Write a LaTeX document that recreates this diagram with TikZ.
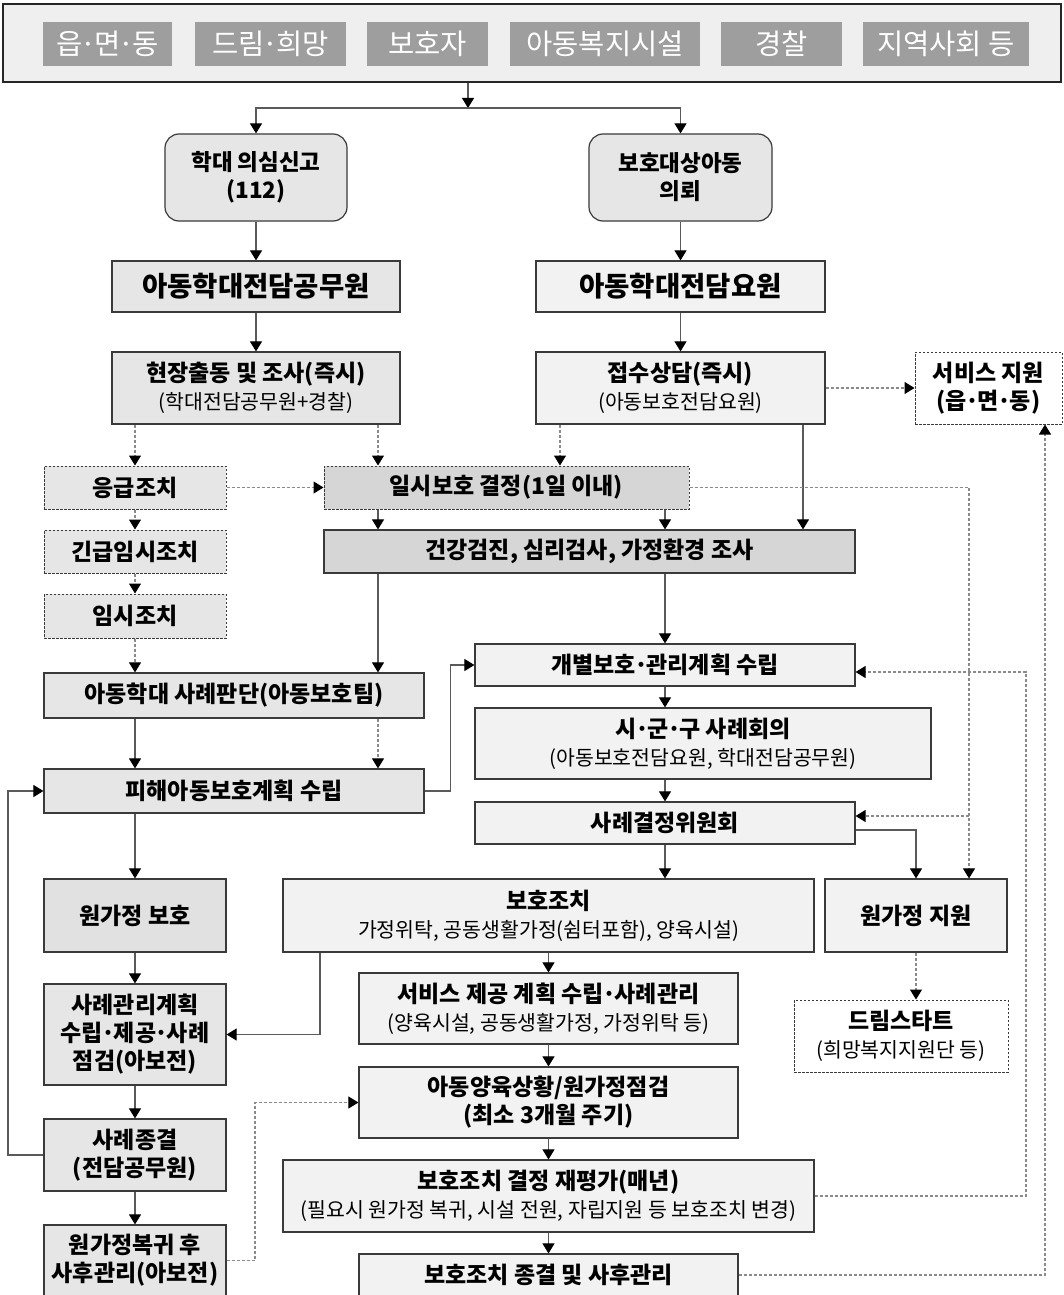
\documentclass[tikz,border=0pt]{standalone}
\usepackage{fontspec}
\setmainfont{Noto Sans CJK KR}
\usetikzlibrary{arrows.meta,calc}
\definecolor{bord}{HTML}{3A3A3A}
\definecolor{lnc}{HTML}{5A5A5A}
\definecolor{dtc}{HTML}{8A8A8A}
\definecolor{fbar}{HTML}{EFEFEF}
\definecolor{fchip}{HTML}{9E9E9E}
\definecolor{fA}{HTML}{E6E6E6}
\definecolor{fB}{HTML}{F2F2F2}
\definecolor{fC}{HTML}{D6D6D6}
\definecolor{fD}{HTML}{E1E1E1}
\newcommand\Ttl{\fontsize{23}{28}\selectfont\bfseries}
\newcommand\Tsub{\fontsize{20.5}{28}\selectfont\mdseries}
\newcommand\Tbig{\fontsize{27.5}{32}\selectfont\bfseries}
\newcommand\Tchip{\fontsize{28.5}{32}\selectfont}
\newcommand\Tround{\fontsize{22.5}{28}\selectfont\bfseries}
\newcommand\md{\kern-.07em·\kern-.07em}
\newcommand\BX[7]{\node[#6, minimum width={((#4)-(#2))*1pt}, minimum height={((#5)-(#3))*1pt}] (#1) at ({((#2)+(#4))/2},{((#3)+(#5))/2}) {#7};}
\begin{document}
\begin{tikzpicture}[x=1pt,y=-1pt,
  bx/.style={draw=bord, line width=1.2pt, inner sep=0pt, align=center, font=\Ttl, text=black},
  sA/.style={bx, fill=fA},
  sB/.style={bx, fill=fB},
  sC/.style={bx, fill=fC},
  sD/.style={bx, fill=fD},
  dbx/.style={dash pattern=on 2.5pt off 1.5pt, line width=1pt},
  rbx/.style={bx, fill=fA, rounded corners=14pt, font=\Tround},
  chip/.style={fill=fchip, inner sep=0pt, text=white, font=\Tchip},
  barbox/.style={draw=black!85, line width=1.6pt, fill=fbar, inner sep=0pt},
  sol/.style={draw=lnc, line width=1.1pt},
  dtl/.style={draw=dtc, line width=1.1pt, dash pattern=on 3pt off 2pt},
  arr/.style={-{Triangle[width=12pt,length=10pt,color=black]}}
]
\useasboundingbox (0,0) rectangle (1063,1295);
\fill[white] (0,0) rectangle (1063,1295);
% top bar
\BX{bar}{3}{4}{1061}{82}{barbox}{}
\BX{c1}{43}{22}{172}{66}{chip}{읍\md 면\md 동}
\BX{c2}{195}{22}{346}{66}{chip}{드림\md 희망}
\BX{c3}{367}{22}{488}{66}{chip}{보호자}
\BX{c4}{510}{22}{700}{66}{chip}{아동복지시설}
\BX{c5}{721}{22}{842}{66}{chip}{경찰}
\BX{c6}{863}{22}{1029}{66}{chip}{지역사회 등}
% upper flow
\BX{r1}{165}{134}{347}{221}{rbx}{학대 의심신고\\(112)}
\BX{r2}{589}{134}{772}{221}{rbx}{보호대상아동\\의뢰}
\BX{a1}{112}{261}{400}{312}{sA,font=\Tbig}{아동학대전담공무원}
\BX{a2}{536}{261}{825}{312}{sB,font=\Tbig}{아동학대전담요원}
\BX{h}{112}{352}{400}{424}{sA}{현장출동 및 조사(즉시)\\{\Tsub (학대전담공무원+경찰)}}
\BX{j}{536}{352}{825}{424}{sB}{접수상담(즉시)\\{\Tsub (아동보호전담요원)}}
\BX{s}{915}{352}{1062}{424}{bx,dbx,fill=white}{서비스 지원\\(읍\md 면\md 동)}
\BX{e1}{44}{466}{226}{509}{sA,dbx}{응급조치}
\BX{e2}{44}{530}{226}{573}{sA,dbx}{긴급임시조치}
\BX{e3}{44}{594}{226}{638}{sA,dbx}{임시조치}
\BX{t}{324}{466}{689}{509}{sC,dbx}{일시보호 결정(1일 이내)}
\BX{k}{324}{530}{855}{573}{sC}{건강검진, 심리검사, 가정환경 조사}
\BX{p1}{44}{673}{424}{718}{sA}{아동학대 사례판단(아동보호팀)}
\BX{p2}{44}{769}{424}{813}{sA}{피해아동보호계획 수립}
\BX{g}{475}{644}{855}{686}{sB}{개별보호\md 관리계획 수립}
\BX{m}{475}{708}{931}{779}{sB}{시\md 군\md 구 사례회의\\{\Tsub (아동보호전담요원, 학대전담공무원)}}
\BX{d}{475}{802}{855}{844}{sB}{사례결정위원회}
\BX{b}{283}{879}{814}{952}{sB}{보호조치\\{\Tsub 가정위탁, 공동생활가정(쉼터포함), 양육시설)}}
\BX{w}{825}{879}{1007}{952}{sB}{원가정 지원}
\BX{o}{44}{879}{226}{952}{sD}{원가정 보호}
\BX{sv}{359}{973}{738}{1044}{sB}{서비스 제공 계획 수립\md 사례관리\\{\Tsub (양육시설, 공동생활가정, 가정위탁 등)}}
\BX{ds}{794}{1000}{1008}{1072}{bx,dbx,fill=white}{드림스타트\\{\Tsub (희망복지지원단 등)}}
\BX{cm}{44}{984}{226}{1085}{sA}{사례관리계획\\수립\md 제공\md 사례\\점검(아보전)}
\BX{ch}{359}{1067}{738}{1138}{sB}{아동양육상황/원가정점검\\(최소 3개월 주기)}
\BX{cz}{44}{1119}{226}{1191}{sA}{사례종결\\(전담공무원)}
\BX{rv}{283}{1160}{814}{1232}{sB}{보호조치 결정 재평가(매년)\\{\Tsub (필요시 원가정 복귀, 시설 전원, 자립지원 등 보호조치 변경)}}
\BX{rh}{44}{1225}{226}{1296}{sA}{원가정복귀 후\\사후관리(아보전)}
\BX{ce}{359}{1254}{738}{1296}{sB}{보호조치 종결 및 사후관리}
% helper coordinates
\coordinate (J) at (468,108);
\coordinate (X8) at (8,0);
\coordinate (X135) at (135,0);
\coordinate (X255) at (255,0);
\coordinate (X320) at (320,0);
\coordinate (X378) at (378,0);
\coordinate (X560) at (560,0);
\coordinate (X665) at (665,0);
\coordinate (X803) at (803,0);
\coordinate (X969) at (969,0);
\coordinate (X1045) at (1045,0);
\coordinate (K1) at (969,816);
\coordinate (C1) at (1026,672);
% connectors
\draw[sol,arr] (bar.south -| J) -- (J);
\draw[sol,arr] (J) -| (r1.north);
\draw[sol,arr] (J) -| (r2.north);
\draw[sol,arr] (r1.south) -- (a1.north);
\draw[sol,arr] (a1.south) -- (h.north);
\draw[sol,arr] (r2.south) -- (a2.north);
\draw[sol,arr] (a2.south) -- (j.north);
\draw[dtl,arr] (h.south -| X135) -- (e1.north);
\draw[dtl,arr] (h.south -| X378) -- (t.north -| X378);
\draw[dtl,arr] (j.south -| X560) -- (t.north -| X560);
\draw[dtl,arr] (j.east) -- (s.west);
\draw[sol,arr] (j.south -| X803) -- (k.north -| X803);
\draw[dtl,arr] (e1.east) -- (t.west);
\draw[dtl,arr] (e1.south) -- (e2.north);
\draw[dtl,arr] (e2.south) -- (e3.north);
\draw[dtl,arr] (e3.south) -- (p1.north -| X135);
\draw[sol,arr] (t.south -| X378) -- (k.north -| X378);
\draw[sol,arr] (t.south -| X665) -- (k.north -| X665);
\draw[sol,arr] (k.south -| X378) -- (p1.north -| X378);
\draw[sol,arr] (k.south -| X665) -- (g.north);
\draw[dtl,arr] (t.east) -| (w.north -| X969);
\draw[dtl,arr] (K1) -- (d.east |- K1);
\draw[sol,arr] (p1.south -| X135) -- (p2.north -| X135);
\draw[dtl,arr] (p1.south -| X378) -- (p2.north -| X378);
\draw[sol,arr] (p2.east) -- ++(26,0) |- (g.west);
\draw[sol,arr] (g.south) -- (g.south |- m.north);
\draw[sol,arr] (m.south -| g.south) -- (d.north);
\draw[sol,arr] (d.south) -- (d.south |- b.north);
\draw[sol,arr] ([yshift=-7pt]d.east) -| (w.north);
\draw[dtl,arr] (w.south) -- (w.south |- ds.north);
\draw[sol,arr] (p2.south -| X135) -- (o.north);
\draw[sol,arr] (o.south) -- (cm.north);
\draw[sol,arr] (b.south -| X320) |- (cm.east);
\draw[sol,arr] (b.south) -- (sv.north);
\draw[sol,arr] (sv.south) -- (ch.north);
\draw[sol,arr] (ch.south) -- (rv.north);
\draw[sol,arr] (rv.south) -- (ce.north);
\draw[sol,arr] (cm.south) -- (cz.north);
\draw[sol,arr] (cz.south) -- (rh.north);
\draw[sol,arr] (cz.west) -- (X8 |- cz.west) |- (p2.west);
\draw[dtl,arr] (rh.east) -- (X255 |- rh.east) |- (ch.west);
\draw[dtl,arr] (rv.east) -| (C1) -- (g.east |- C1);
\draw[dtl,arr] (ce.east) -| (s.south -| X1045);
\end{tikzpicture}
\end{document}
